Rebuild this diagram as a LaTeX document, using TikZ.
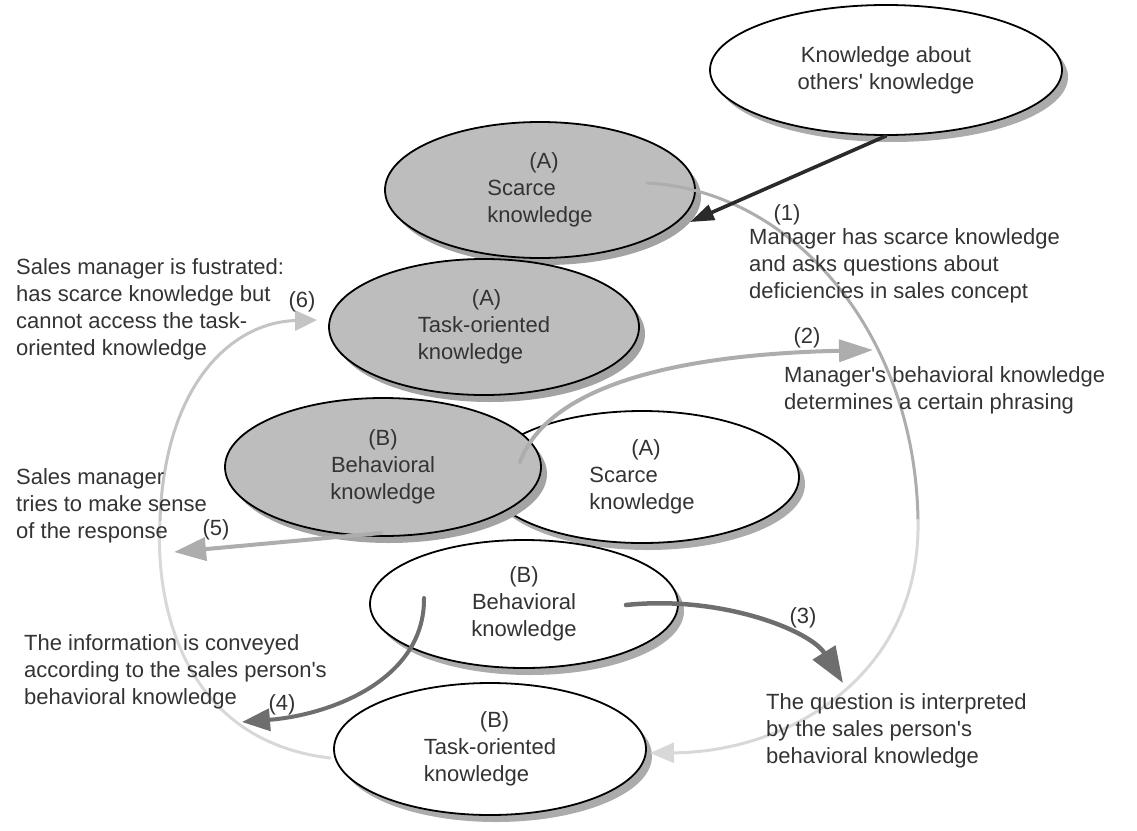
\documentclass[tikz,border=0pt]{standalone}
\usepackage{fontspec}
\setmainfont{Liberation Sans}
\usetikzlibrary{shapes.geometric,shadows,arrows.meta}

\definecolor{txt}{HTML}{333333}
\definecolor{grayfill}{HTML}{BDBDBD}
\definecolor{grayshadow}{HTML}{A3A3A3}
\definecolor{whiteshadow}{HTML}{ABABAB}
\definecolor{darkarrow}{HTML}{2A2A2A}
\definecolor{midarrow}{HTML}{6E6E6E}
\definecolor{lightarrow}{HTML}{ADADAD}
\definecolor{paleline}{HTML}{C4C4C4}
\definecolor{palerline}{HTML}{D8D8D8}

\newcommand{\diagfont}{\fontsize{22}{27}\selectfont}
\newcommand{\ap}{\textquotesingle}

\tikzset{
  oval/.style={ellipse, draw=black, line width=1.8pt, inner sep=0pt,
    align=center, font=\diagfont, text=txt},
  mgrshape/.style={oval, fill=grayfill,
    drop shadow={shadow xshift=6pt, shadow yshift=-7pt, fill=grayshadow, opacity=1}},
  spshape/.style={oval, fill=white,
    drop shadow={shadow xshift=6pt, shadow yshift=-7pt, fill=whiteshadow, opacity=1}},
  note/.style={anchor=north west, align=left, inner sep=0pt, font=\diagfont, text=txt},
  num/.style={inner sep=0pt, font=\diagfont, text=txt},
  flow/.style={line cap=round},
}

\begin{document}
\begin{tikzpicture}[x=1pt,y=-1pt]
\useasboundingbox (0,0) rectangle (1137,830);

% knowledge ovals
\node[spshape, minimum width=352pt, minimum height=130pt] (others) at (886,70)
  {Knowledge about\\others\ap{} knowledge};
\node[mgrshape, minimum width=310pt, minimum height=136pt, align=left] (mgrScarce) at (540,190)
  {\hspace*{42pt}(A)\\Scarce\\knowledge};
\node[mgrshape, minimum width=310pt, minimum height=136pt, align=left] (mgrTask) at (484,327)
  {\hspace*{54pt}(A)\\Task-oriented\\knowledge};
\node[spshape, minimum width=314pt, minimum height=132pt, align=left] (spScarce) at (642,477)
  {\hspace*{42pt}(A)\\Scarce\\knowledge};
\node[mgrshape, minimum width=316pt, minimum height=138pt] (mgrBehav) at (383,467)
  {(B)\\Behavioral\\knowledge};
\node[spshape, minimum width=308pt, minimum height=128pt] (spBehav) at (524,604)
  {(B)\\Behavioral\\knowledge};
\node[spshape, minimum width=312pt, minimum height=132pt, align=left] (spTask) at (490,749)
  {\hspace*{56pt}(B)\\Task-oriented\\knowledge};

% end points of the connectors
\coordinate (qStart) at (647,183);
\coordinate (qBend)  at (918,520);
\coordinate (qTip)   at (650,753);
\coordinate (oneTip) at (690,222);
\coordinate (twoStart) at (520,462);
\coordinate (twoTip) at (873,350);
\coordinate (threeStart) at (626,605);
\coordinate (threeTip) at (843,683);
\coordinate (fourStart) at (424,598);
\coordinate (fourTip) at (242,722);
\coordinate (fiveStart) at (381,533);
\coordinate (fiveTip) at (174,552);
\coordinate (sixStart) at (330,758);
\coordinate (sixBend) at (160,520);
\coordinate (sixTip) at (317,320);

% question travelling to the sales person
\draw[flow, draw=lightarrow, line width=3pt]
  (qStart) .. controls (790,190) and (915,330) .. (qBend);
\draw[flow, draw=palerline, line width=3pt, -{Triangle[length=24pt,width=20pt]}]
  (qBend) .. controls (921,675) and (790,752) .. (qTip);

% (1)
\draw[flow, draw=darkarrow, line width=3.6pt, -{Triangle[length=24pt,width=16pt]}]
  (others.south) -- (oneTip);

% (2)
\draw[flow, draw=lightarrow, line width=4pt, -{Triangle[length=34pt,width=22pt]}]
  (twoStart) .. controls (545,395) and (650,355) .. (twoTip);

% (3)
\draw[flow, draw=midarrow, line width=4.5pt, -{Triangle[length=36pt,width=26pt]}]
  (threeStart) .. controls (720,595) and (810,630) .. (threeTip);

% (4)
\draw[flow, draw=midarrow, line width=4pt, -{Triangle[length=28pt,width=22pt]}]
  (fourStart) .. controls (425,680) and (330,715) .. (fourTip);

% (5)
\draw[flow, draw=lightarrow, line width=4pt, -{Triangle[length=32pt,width=23pt]}]
  (fiveStart) -- (fiveTip);

% (6)
\draw[flow, draw=palerline, line width=3pt]
  (sixStart) .. controls (180,740) and (155,600) .. (sixBend);
\draw[flow, draw=paleline, line width=3pt, -{Triangle[length=22pt,width=20pt]}]
  (sixBend) .. controls (165,380) and (235,322) .. (sixTip);

% captions
\node[note] (capSix) at (16,258)
  {Sales manager is fustrated:\\has scarce knowledge but\\cannot access the task-\\oriented knowledge};
\node[num] (numSix) at (302,302) {(6)};
\node[num] (numOne) at (787,215) {(1)};
\node[note] (capOne) at (749,228)
  {Manager has scarce knowledge\\and asks questions about\\deficiencies in sales concept};
\node[num] (numTwo) at (807,338) {(2)};
\node[note] (capTwo) at (784,366)
  {Manager\ap{}s behavioral knowledge\\determines a certain phrasing};
\node[note] (capFive) at (16,468)
  {Sales manager\\tries to make sense\\of the response};
\node[num] (numFive) at (216,530) {(5)};
\node[note] (capFour) at (24,634)
  {The information is conveyed\\according to the sales person\ap{}s\\behavioral knowledge};
\node[num] (numFour) at (282,705) {(4)};
\node[num] (numThree) at (803,618) {(3)};
\node[note] (capThree) at (766,693)
  {The question is interpreted\\by the sales person\ap{}s\\behavioral knowledge};
\end{tikzpicture}
\end{document}
